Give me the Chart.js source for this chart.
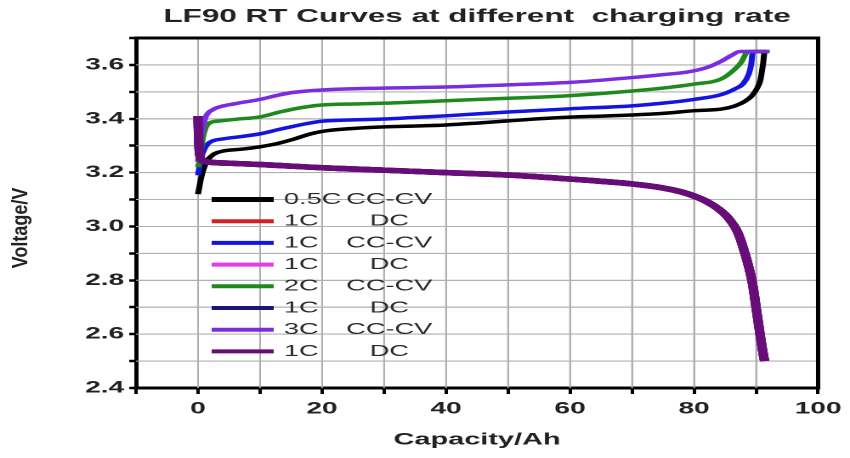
<!DOCTYPE html>
<html>
<head>
<meta charset="utf-8">
<script src="https://cdn.jsdelivr.net/npm/chart.js@4.4.1/dist/chart.umd.min.js"></script>
<style>
  body { margin: 0; background: #fff; }
</style>
</head>
<body>
<!-- drawn narrow and stretched to 850 wide, like the source picture -->
<canvas id="chart" width="500" height="458" style="width:850px;height:458px"></canvas>
<script>
// 0.5C CC-CV charge
const capCC05 = [0, 0.5, 1, 1.5, 2.5, 4, 7, 10, 13, 15.4, 18, 20, 25, 30, 35, 40, 45, 50, 55, 60, 65, 70, 75, 80, 84.4, 86.5, 88.2, 89.3, 90.2, 90.7, 91.1, 91.4, 91.8];
const voltCC05 = [3.12, 3.18, 3.22, 3.245, 3.268, 3.28, 3.287, 3.296, 3.309, 3.324, 3.343, 3.353, 3.364, 3.37, 3.373, 3.377, 3.384, 3.392, 3.40, 3.406, 3.41, 3.414, 3.42, 3.43, 3.436, 3.447, 3.465, 3.485, 3.515, 3.545, 3.60, 3.65, 3.65];

// 1C CC-CV charge
const capCC1 = [0, 0.3, 0.8, 1.5, 2.4, 4, 7, 10, 13, 15.4, 18, 20, 25, 30, 35, 40, 50, 60, 70, 75, 80, 84.4, 86.5, 87.9, 88.8, 89.2, 89.5, 91.5];
const voltCC1 = [3.19, 3.23, 3.275, 3.305, 3.318, 3.325, 3.334, 3.344, 3.36, 3.372, 3.384, 3.391, 3.396, 3.399, 3.405, 3.411, 3.425, 3.437, 3.448, 3.458, 3.472, 3.49, 3.51, 3.53, 3.565, 3.60, 3.65, 3.65];

// 2C CC-CV charge
const capCC2 = [0, 0.3, 0.8, 1.3, 1.9, 3.6, 6, 10, 13, 15.4, 18, 20, 25, 30, 40, 50, 60, 70, 75, 80, 84.4, 86.6, 87.6, 88.3, 88.6, 91.5];
const voltCC2 = [3.22, 3.25, 3.33, 3.37, 3.385, 3.392, 3.398, 3.407, 3.424, 3.436, 3.446, 3.451, 3.455, 3.458, 3.467, 3.476, 3.486, 3.503, 3.514, 3.529, 3.548, 3.585, 3.61, 3.64, 3.65, 3.65];

// 3C CC-CV charge
const capCC3 = [0, 0.3, 0.8, 1.3, 2.4, 3.6, 6, 10, 13, 15.4, 20, 30, 40, 50, 60, 70, 75, 79, 82, 84.4, 86, 87.4, 92.2];
const voltCC3 = [3.24, 3.30, 3.37, 3.41, 3.434, 3.445, 3.456, 3.472, 3.488, 3.498, 3.507, 3.514, 3.518, 3.526, 3.535, 3.553, 3.564, 3.574, 3.59, 3.614, 3.635, 3.65, 3.65];

// 1C discharge (the four DC runs lie on top of each other)
const capDC = [0, 0.15, 0.5, 1.3, 5, 10, 20, 30, 40, 50, 60, 70, 75, 78, 80, 82, 84, 85.5, 87, 88, 89.4, 90.2, 91.3, 91.4];
const voltDC = [3.41, 3.30, 3.25, 3.24, 3.235, 3.23, 3.218, 3.209, 3.20, 3.191, 3.176, 3.158, 3.143, 3.128, 3.113, 3.093, 3.064, 3.032, 2.98, 2.915, 2.79, 2.667, 2.508, 2.50];

const seriesRates = ["0.5C", "1C", "1C", "1C", "2C", "1C", "3C", "1C"];
const seriesModes = ["CC-CV", "DC", "CC-CV", "DC", "CC-CV", "DC", "CC-CV", "DC"];
const seriesCaps = [capCC05, capDC, capCC1, capDC, capCC2, capDC, capCC3, capDC];
const seriesVolts = [voltCC05, voltDC, voltCC1, voltDC, voltCC2, voltDC, voltCC3, voltDC];
const seriesColors = ["#000000", "#d42020", "#1414e0", "#e83ae8", "#1e8a1e", "#15157e", "#7c2ce0", "#680c78"];

const titleText = "LF90 RT Curves at different  charging rate";
const yTitleText = "Voltage/V";
const xTitleText = "Capacity/Ah";

const FONT = "'Liberation Sans', Arial, sans-serif";
const GRID = "#b0b0b0";

const datasets = seriesRates.map((rate, i) => ({
  label: rate + " " + seriesModes[i],
  data: seriesCaps[i].map((x, k) => ({ x: x, y: seriesVolts[i][k] })),
  borderColor: seriesColors[i],
  backgroundColor: seriesColors[i],
  borderWidth: seriesModes[i] === "DC" ? 5.5 : 3.5,
  pointRadius: 0,
  cubicInterpolationMode: "monotone",
  fill: false,
  order: seriesRates.length - 1 - i, // later series on top
}));

// grid lines at every scale tick, under the curves
const gridUnder = {
  id: "gridUnder",
  beforeDatasetsDraw(chart) {
    const { ctx, chartArea: a, scales } = chart;
    ctx.save();
    ctx.strokeStyle = GRID;
    ctx.lineWidth = 1;
    scales.x.ticks.forEach((t) => {
      if (t.value <= scales.x.min || t.value >= scales.x.max) return;
      const px = scales.x.getPixelForValue(t.value);
      ctx.beginPath();
      ctx.moveTo(px, a.top);
      ctx.lineTo(px, a.bottom);
      ctx.stroke();
    });
    scales.y.ticks.forEach((t) => {
      if (t.value <= scales.y.min + 1e-9 || t.value >= scales.y.max - 1e-9) return;
      const py = scales.y.getPixelForValue(t.value);
      ctx.beginPath();
      ctx.moveTo(a.left, py);
      ctx.lineTo(a.right, py);
      ctx.stroke();
    });
    ctx.restore();
  },
};

// title, rotated y title, legend box inside plot, top/right frame
const decorations = {
  id: "decorations",
  afterDraw(chart) {
    const { ctx, chartArea: a } = chart;
    ctx.save();

    ctx.strokeStyle = "#000";
    ctx.lineWidth = 3;
    ctx.beginPath();
    ctx.moveTo(a.left - 1, a.top);
    ctx.lineTo(a.right + 1, a.top);
    ctx.stroke();
    ctx.lineWidth = 2.5;
    ctx.beginPath();
    ctx.moveTo(a.right, a.top - 1.5);
    ctx.lineTo(a.right, a.bottom + 1.5);
    ctx.stroke();

    ctx.fillStyle = "#222";
    ctx.font = "bold 18.5px " + FONT;
    ctx.textAlign = "center";
    ctx.textBaseline = "middle";
    ctx.fillText(titleText, (a.left + a.right) / 2, 17);

    ctx.save();
    ctx.font = "bold 18px " + FONT;
    ctx.translate(12.5, 228);
    ctx.rotate(-Math.PI / 2);
    ctx.scale(1, 0.7);
    ctx.fillText(yTitleText, 0, 0);
    ctx.restore();

    // legend
    ctx.font = "16px " + FONT;
    ctx.fillStyle = "#2a2a2a";
    ctx.textBaseline = "middle";
    chart.data.datasets.forEach((ds, i) => {
      const y = 199.5 + i * 21.7;
      ctx.strokeStyle = ds.borderColor;
      ctx.lineWidth = i === 0 ? 5 : 4;
      ctx.beginPath();
      ctx.moveTo(a.left + 44.5, y);
      ctx.lineTo(a.left + 81, y);
      ctx.stroke();
      ctx.textAlign = "left";
      ctx.fillText(seriesRates[i], a.left + 87, y);
      ctx.textAlign = "center";
      ctx.fillText(seriesModes[i], a.left + 149, y);
    });

    ctx.restore();
  },
};

new Chart(document.getElementById("chart"), {
  type: "line",
  data: { datasets: datasets },
  plugins: [gridUnder, decorations],
  options: {
    responsive: false,
    animation: false,
    devicePixelRatio: 2,
    layout: { padding: { top: 38, right: 16.5, left: 0, bottom: 0 } },
    plugins: {
      legend: { display: false },
      title: { display: false },
      tooltip: { enabled: false },
    },
    scales: {
      x: {
        type: "linear",
        min: -10,
        max: 100,
        afterFit(axis) { axis.height = 70; },
        border: { display: true, color: "#000", width: 3 },
        grid: {
          color: GRID,
          lineWidth: 1,
          tickLength: 6,
          tickColor: "#000",
          tickWidth: 2,
        },
        ticks: {
          stepSize: 10,
          autoSkip: false,
          maxRotation: 0,
          padding: 5,
          color: "#222",
          font: { family: FONT, size: 16.5, weight: "bold" },
          callback: (v) => (v % 20 === 0 ? String(v) : ""),
        },
        title: {
          display: true,
          text: xTitleText,
          color: "#222",
          font: { family: FONT, size: 17, weight: "bold" },
          padding: { top: 0, bottom: 8 },
        },
      },
      y: {
        min: 2.4,
        max: 3.7,
        afterFit(axis) { axis.width = 80; },
        border: { display: true, color: "#000", width: 2.5 },
        grid: {
          color: GRID,
          lineWidth: 1,
          tickLength: 4,
          tickColor: "#000",
          tickWidth: 2.5,
        },
        ticks: {
          stepSize: 0.1,
          autoSkip: false,
          padding: 3,
          color: "#222",
          font: { family: FONT, size: 16.5, weight: "bold" },
          callback: (v) => (Math.round(v * 10) % 2 === 0 ? v.toFixed(1) : ""),
        },
      },
    },
  },
});
</script>
</body>
</html>
